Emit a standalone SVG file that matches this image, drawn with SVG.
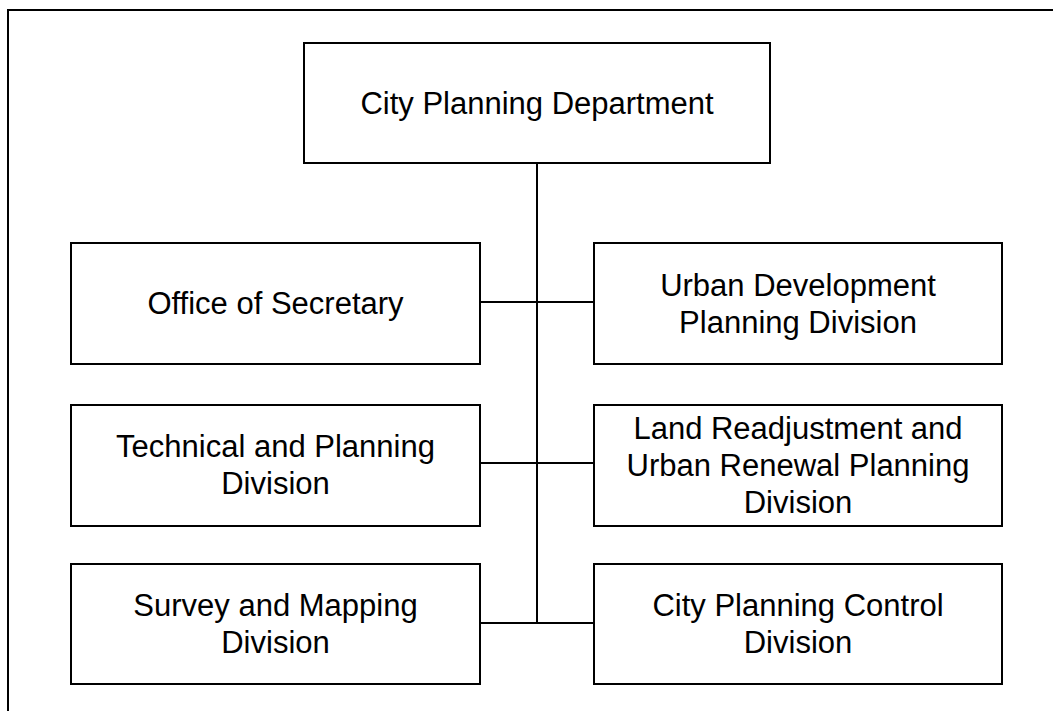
<svg xmlns="http://www.w3.org/2000/svg" width="1053" height="711" viewBox="0 0 1053 711">
  <style>
    .box { fill: #ffffff; stroke: #000000; stroke-width: 2; }
    .lbl { font-family: "Liberation Sans", Arial, sans-serif; font-size: 31px; fill: #000000; text-anchor: middle; }
    .wire { fill: none; stroke: #000000; stroke-width: 2; }
  </style>
  <rect width="1053" height="711" fill="#ffffff"/>
  <!-- page frame -->
  <path class="wire" d="M8,711 V10 H1053"/>

  <!-- connectors -->
  <g id="connectors">
    <line class="wire" x1="537" y1="163" x2="537" y2="623"/>
    <line class="wire" x1="480" y1="302" x2="594" y2="302"/>
    <line class="wire" x1="480" y1="463" x2="594" y2="463"/>
    <line class="wire" x1="480" y1="623" x2="594" y2="623"/>
  </g>

  <g id="city-planning-department">
    <rect class="box" x="304" y="43" width="466" height="120"/>
    <text class="lbl" x="537" y="114">City Planning Department</text>
  </g>

  <g id="office-of-secretary">
    <rect class="box" x="71" y="243" width="409" height="121"/>
    <text class="lbl" x="275.5" y="314">Office of Secretary</text>
  </g>

  <g id="urban-development-planning">
    <rect class="box" x="594" y="243" width="408" height="121"/>
    <text class="lbl" x="798" y="296">Urban Development</text>
    <text class="lbl" x="798" y="333">Planning Division</text>
  </g>

  <g id="technical-and-planning">
    <rect class="box" x="71" y="405" width="409" height="121"/>
    <text class="lbl" x="275.5" y="457">Technical and Planning</text>
    <text class="lbl" x="275.5" y="494">Division</text>
  </g>

  <g id="land-readjustment-urban-renewal">
    <rect class="box" x="594" y="405" width="408" height="121"/>
    <text class="lbl" x="798" y="439">Land Readjustment and</text>
    <text class="lbl" x="798" y="476">Urban Renewal Planning</text>
    <text class="lbl" x="798" y="513">Division</text>
  </g>

  <g id="survey-and-mapping">
    <rect class="box" x="71" y="564" width="409" height="120"/>
    <text class="lbl" x="275.5" y="616">Survey and Mapping</text>
    <text class="lbl" x="275.5" y="653">Division</text>
  </g>

  <g id="city-planning-control">
    <rect class="box" x="594" y="564" width="408" height="120"/>
    <text class="lbl" x="798" y="616">City Planning Control</text>
    <text class="lbl" x="798" y="653">Division</text>
  </g>
</svg>
